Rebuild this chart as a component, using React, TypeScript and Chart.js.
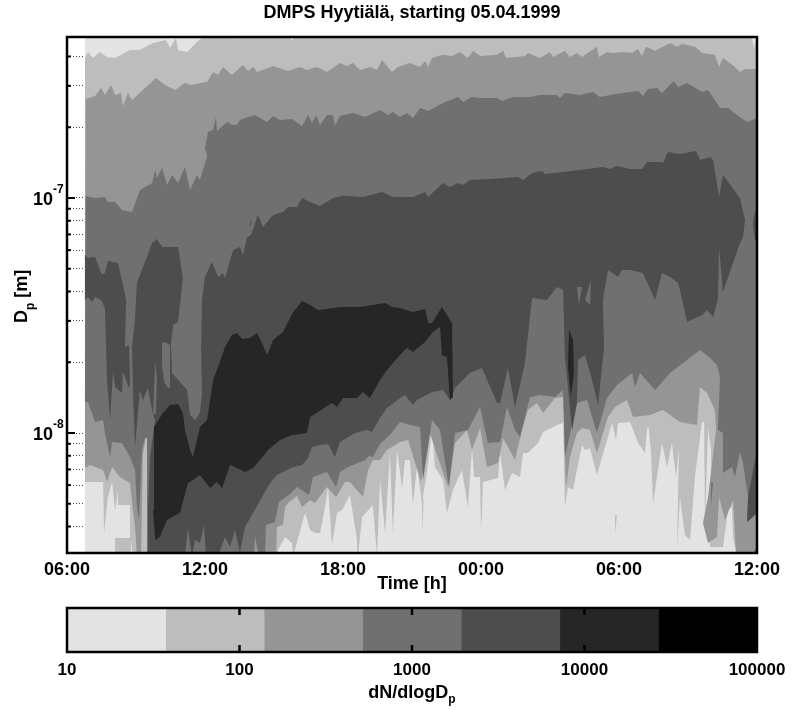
import React, { useEffect, useRef } from "react";
import { Chart, registerables } from "chart.js";

Chart.register(...registerables);

const FONT = "'Liberation Sans', 'DejaVu Sans', sans-serif";
const titleText = "DMPS Hyytiälä, starting 05.04.1999";
const xAxisTitle = "Time [h]";
const xTickLabels = ["06:00", "12:00", "18:00", "00:00", "06:00", "12:00"];
const yTickValues = [4e-9, 5e-9, 6e-9, 7e-9, 8e-9, 9e-9, 1e-8, 2e-8, 3e-8, 4e-8, 5e-8, 6e-8, 7e-8, 8e-8, 9e-8, 1e-7, 2e-7, 3e-7, 4e-7];
const yTickExponents = ["", "", "", "", "", "", "-8", "", "", "", "", "", "", "", "", "-7", "", "", ""];
const barTicks = [10, 100, 1000, 10000, 100000];
const barEdges = [10, 37.3, 139, 518, 1931, 7197, 26827, 100000];
const shades = ["#e3e3e3", "#bdbdbd", "#959595", "#707070", "#4d4d4d", "#262626", "#000000"];

// Hours since 06:00 on the first day, and log10 of the diameter in nm.
const dataStartHour = 0.78;
const lgMin = 0.4894;
const lgMax = 2.685;

const edge10Hours = [0.78, 0.91, 1.13, 1.43, 1.74, 2.09, 2.74, 3.17, 3.74, 4.30, 4.48, 4.74, 4.83, 5.22, 5.65, 5.91, 6.43, 29.70, 29.78, 29.87, 30];
const edge10Lg = [2.596, 2.621, 2.596, 2.621, 2.600, 2.596, 2.630, 2.630, 2.660, 2.672, 2.638, 2.681, 2.630, 2.621, 2.664, 2.685, 2.702, 2.702, 2.685, 2.638, 2.689];

const top100Hours = [0.81, 1.22, 1.48, 1.65, 1.91, 2.09, 2.35, 2.43, 2.65, 2.83, 3.30, 3.87, 4.26, 4.70, 5.13, 5.35, 6.09, 6.35, 6.57, 6.78, 7.17, 7.65, 7.87, 8.09, 8.26, 8.96, 9.61, 10.13, 10.43, 10.87, 11.30, 11.87, 12.17, 12.43, 12.74, 13.17, 13.48, 13.70, 14.13, 14.39, 14.91, 15.35, 15.57, 15.70, 15.87, 16.35, 16.74, 17.09, 17.43, 17.65, 17.96, 18.70, 18.96, 19.09, 19.91, 20.04, 20.57, 21.00, 21.13, 21.65, 21.87, 22.17, 22.39, 23.04, 23.13, 23.48, 23.74, 24.17, 24.57, 24.83, 25.00, 25.17, 25.57, 26.22, 26.52, 26.74, 27.30, 27.61, 28.17, 28.35, 28.52, 29.04, 29.26, 29.48, 30];
const top100Lg = [2.421, 2.434, 2.468, 2.438, 2.481, 2.438, 2.447, 2.391, 2.447, 2.417, 2.460, 2.511, 2.481, 2.460, 2.489, 2.481, 2.494, 2.536, 2.523, 2.557, 2.523, 2.566, 2.540, 2.557, 2.536, 2.562, 2.540, 2.557, 2.545, 2.557, 2.536, 2.574, 2.562, 2.574, 2.545, 2.557, 2.545, 2.587, 2.536, 2.557, 2.574, 2.557, 2.583, 2.557, 2.596, 2.609, 2.604, 2.621, 2.596, 2.626, 2.604, 2.609, 2.626, 2.596, 2.604, 2.617, 2.596, 2.621, 2.600, 2.626, 2.600, 2.617, 2.600, 2.643, 2.600, 2.621, 2.617, 2.621, 2.617, 2.634, 2.604, 2.643, 2.626, 2.660, 2.643, 2.655, 2.643, 2.617, 2.609, 2.557, 2.596, 2.557, 2.536, 2.549, 2.549];

const top1000Hours = [0.81, 1.22, 1.65, 1.78, 2.09, 2.39, 2.83, 3.17, 3.70, 3.83, 3.91, 4.13, 4.35, 4.57, 4.83, 5.13, 5.35, 5.65, 5.78, 6.00, 6.09, 6.00, 6.13, 6.35, 6.48, 6.52, 6.96, 7.17, 7.39, 7.52, 7.87, 8.17, 8.70, 8.96, 9.26, 9.78, 10.22, 10.48, 10.65, 10.83, 11.00, 11.30, 11.57, 11.65, 11.87, 12.43, 12.96, 13.61, 13.96, 14.17, 14.48, 14.78, 15.04, 15.35, 15.70, 16.35, 17.00, 17.22, 17.61, 17.96, 18.70, 18.91, 19.39, 20.13, 20.57, 21.30, 21.43, 21.65, 22.30, 22.87, 23.17, 23.91, 24.83, 25.04, 25.26, 25.65, 25.87, 26.39, 26.57, 26.96, 27.61, 27.87, 28.17, 28.39, 28.74, 29.13, 29.57, 30];
const top1000Lg = [2.008, 2.000, 2.004, 1.983, 1.983, 1.949, 1.940, 2.034, 2.064, 2.119, 2.085, 2.128, 2.055, 2.098, 2.064, 2.132, 2.034, 2.098, 2.077, 2.149, 2.174, 2.213, 2.281, 2.289, 2.345, 2.285, 2.323, 2.311, 2.311, 2.332, 2.345, 2.353, 2.323, 2.349, 2.332, 2.336, 2.306, 2.353, 2.319, 2.353, 2.311, 2.353, 2.353, 2.306, 2.349, 2.362, 2.345, 2.374, 2.353, 2.366, 2.345, 2.362, 2.340, 2.383, 2.370, 2.404, 2.430, 2.408, 2.430, 2.425, 2.425, 2.413, 2.430, 2.430, 2.438, 2.438, 2.425, 2.447, 2.438, 2.451, 2.430, 2.443, 2.455, 2.434, 2.464, 2.468, 2.447, 2.498, 2.472, 2.489, 2.451, 2.460, 2.417, 2.383, 2.383, 2.353, 2.323, 2.340];

const low1000Hours = [0.78, 0.91, 1.22, 1.57, 1.65, 1.87, 1.96, 2.39, 2.74, 2.96, 3.04, 3.13, 3.26, 3.39, 3.48, 3.52, 8.13, 8.17, 8.35, 8.61, 8.65, 9.04, 9.22, 9.70, 10.00, 10.52, 10.70, 11.30, 11.70, 11.87, 12.22, 12.96, 13.13, 13.30, 13.61, 14.04, 14.48, 14.91, 15.35, 15.48, 15.87, 16.22, 16.61, 16.87, 17.43, 17.96, 18.17, 18.30, 18.83, 19.13, 19.48, 19.70, 20.13, 20.57, 21.22, 21.57, 21.65, 22.17, 22.61, 23.04, 23.48, 23.91, 24.57, 24.70, 24.91, 25.57, 26.22, 27.52, 27.96, 28.26, 28.39, 28.30, 28.52, 28.52, 28.91, 29.04, 29.26, 29.39, 29.61, 29.57, 30];
const low1000Lg = [1.132, 1.132, 1.047, 1.055, 1.000, 0.898, 0.962, 0.957, 0.898, 0.843, 0.685, 0.630, 0.928, 0.979, 0.979, 0.477, 0.477, 0.562, 0.477, 0.477, 0.609, 0.621, 0.706, 0.740, 0.770, 0.736, 0.813, 0.834, 0.770, 0.834, 0.855, 0.885, 0.902, 0.898, 0.953, 0.991, 1.047, 1.034, 1.026, 0.800, 1.055, 1.013, 0.770, 1.000, 1.013, 1.111, 1.013, 0.957, 0.962, 1.111, 1.013, 0.983, 1.153, 1.162, 1.153, 1.183, 0.898, 1.128, 1.140, 1.000, 1.149, 1.204, 1.255, 1.196, 1.255, 1.183, 1.255, 1.353, 1.319, 1.289, 1.238, 1.013, 1.000, 0.830, 0.855, 0.813, 0.919, 0.872, 0.728, 0.621, 0.660];

const low100Hours = [0.78, 1.00, 1.57, 1.74, 1.96, 2.30, 2.74, 2.83, 2.96, 3.04, 3.22, 3.30, 3.43, 3.52, 3.52, 9.09, 9.13, 9.39, 9.48, 9.65, 10.00, 10.22, 10.57, 10.78, 11.30, 11.70, 12.09, 12.30, 12.87, 13.09, 13.30, 13.61, 13.91, 14.48, 14.83, 15.39, 15.78, 16.09, 16.57, 16.87, 17.39, 17.61, 17.96, 18.26, 18.74, 18.96, 19.48, 19.78, 20.04, 20.43, 20.70, 21.22, 21.57, 21.70, 21.87, 22.17, 22.39, 22.74, 23.04, 23.52, 23.83, 24.35, 24.61, 25.35, 25.91, 26.65, 27.39, 27.52, 27.83, 28.17, 28.22, 27.87, 27.65, 27.87, 28.26, 28.35, 28.61, 28.96, 29.09, 30];
const low100Lg = [0.851, 0.864, 0.843, 0.791, 0.855, 0.813, 0.787, 0.702, 0.600, 0.477, 0.477, 0.906, 0.983, 0.983, 0.477, 0.477, 0.600, 0.609, 0.685, 0.706, 0.732, 0.685, 0.715, 0.702, 0.770, 0.728, 0.791, 0.791, 0.728, 0.843, 0.885, 0.885, 0.928, 0.962, 0.970, 0.791, 1.000, 0.906, 0.770, 0.957, 1.013, 0.928, 1.021, 0.855, 0.872, 0.979, 0.885, 1.013, 1.098, 1.128, 1.085, 1.149, 1.153, 0.770, 0.898, 1.000, 1.021, 1.013, 0.915, 1.068, 1.111, 1.140, 1.068, 1.077, 1.098, 1.047, 1.034, 1.196, 1.170, 1.098, 1.013, 0.728, 0.617, 0.532, 0.557, 0.728, 0.630, 0.715, 0.477, 0.477];

const low10Hours = [0.78, 1.57, 1.61, 1.78, 1.96, 2.09, 2.22, 2.22, 2.74, 2.74, 2.09, 2.09, 2.78, 2.78, 2.87, 9.17, 9.17, 9.48, 9.78, 9.83, 10.00, 10.35, 10.57, 10.78, 11.00, 11.22, 11.35, 11.52, 11.74, 11.96, 12.30, 12.61, 12.65, 12.83, 13.30, 13.48, 13.61, 13.83, 14.04, 14.17, 14.35, 14.57, 14.70, 14.91, 15.04, 15.22, 15.43, 15.65, 15.87, 16.00, 16.35, 16.52, 16.78, 17.17, 17.43, 17.61, 17.70, 17.96, 18.00, 18.09, 18.74, 18.83, 19.04, 19.35, 19.70, 19.83, 20.04, 20.48, 20.70, 21.30, 21.57, 21.65, 21.78, 22.00, 22.17, 22.39, 22.52, 22.74, 23.04, 23.48, 23.70, 23.87, 23.96, 24.48, 24.83, 25.13, 25.22, 25.30, 25.39, 25.48, 25.87, 26.09, 26.30, 26.48, 26.61, 26.52, 26.65, 26.87, 27.09, 27.30, 27.61, 27.70, 27.74, 27.87, 28.00, 27.96, 28.52, 28.74, 28.91, 28.96, 29.13, 30];
const low10Lg = [0.791, 0.791, 0.574, 0.728, 0.791, 0.672, 0.757, 0.694, 0.694, 0.553, 0.553, 0.477, 0.477, 0.545, 0.477, 0.477, 0.502, 0.557, 0.532, 0.477, 0.536, 0.660, 0.587, 0.574, 0.574, 0.685, 0.770, 0.523, 0.660, 0.672, 0.736, 0.545, 0.477, 0.643, 0.694, 0.477, 0.800, 0.574, 0.915, 0.574, 0.928, 0.766, 0.885, 0.885, 0.694, 0.864, 0.702, 0.834, 1.013, 0.855, 0.800, 0.660, 0.757, 0.843, 0.685, 0.936, 0.813, 0.813, 0.574, 0.791, 0.809, 0.915, 0.757, 0.830, 0.813, 0.915, 0.915, 0.957, 1.004, 1.034, 1.043, 0.685, 0.770, 0.757, 0.843, 0.949, 0.928, 0.936, 0.821, 0.970, 1.043, 0.970, 1.043, 1.047, 0.957, 0.915, 1.021, 1.021, 0.915, 0.702, 0.957, 0.855, 0.957, 0.813, 0.940, 0.502, 0.728, 0.566, 0.545, 0.813, 1.047, 1.047, 0.600, 1.021, 0.928, 0.515, 0.515, 0.672, 0.685, 0.553, 0.477, 0.477];

const band5000Hours = [3.52, 3.52, 3.61, 3.83, 3.74, 3.52, 3.30, 3.17, 2.96, 2.87, 2.83, 2.96, 3.04, 3.39, 3.70, 3.91, 4.13, 4.83, 5.04, 4.83, 4.61, 4.52, 4.57, 4.83, 5.22, 5.35, 5.57, 5.78, 5.87, 5.83, 5.87, 6.00, 6.30, 6.57, 6.78, 6.87, 7.22, 7.52, 7.65, 7.83, 8.00, 8.30, 8.52, 8.96, 9.39, 9.61, 10.00, 10.22, 10.57, 11.00, 11.57, 12.00, 12.87, 13.70, 14.17, 15.04, 15.57, 15.70, 16.35, 16.65, 17.00, 17.22, 17.52, 18.39, 19.61, 19.83, 20.22, 20.65, 20.78, 21.57, 22.61, 23.30, 23.61, 23.91, 24.48, 25.00, 25.22, 25.78, 25.91, 26.13, 26.65, 27.35, 27.52, 27.96, 28.09, 28.35, 28.52, 29.26, 29.48, 29.39, 29.26, 28.96, 28.52, 28.35, 28.30, 28.09, 27.83, 27.61, 26.96, 26.65, 26.57, 26.22, 25.87, 25.57, 25.04, 24.48, 24.13, 23.96, 23.52, 23.30, 23.35, 23.09, 22.83, 22.52, 22.22, 22.17, 21.96, 21.65, 21.57, 21.30, 20.87, 20.22, 19.91, 19.48, 19.17, 18.83, 18.70, 18.04, 17.52, 16.87, 16.65, 16.35, 15.87, 15.22, 15.04, 14.70, 14.48, 13.91, 13.61, 13.26, 13.04, 12.52, 11.87, 11.65, 11.35, 11.00, 10.65, 10.48, 10.22, 9.83, 9.13, 8.83, 8.48, 8.09, 7.74, 7.52, 7.30, 7.09, 6.87, 6.57, 6.04, 5.96, 5.78, 5.57, 5.43, 5.26, 5.13];
const band5000Lg = [0.477, 0.672, 0.898, 1.055, 1.077, 1.191, 1.140, 1.183, 0.940, 1.170, 1.366, 1.494, 1.638, 1.728, 1.808, 1.826, 1.791, 1.791, 1.660, 1.472, 1.460, 1.374, 1.255, 1.226, 1.183, 1.077, 1.055, 1.085, 1.170, 1.353, 1.566, 1.664, 1.728, 1.664, 1.681, 1.660, 1.779, 1.791, 1.757, 1.834, 1.843, 1.928, 1.877, 1.928, 1.940, 1.962, 1.962, 2.000, 1.983, 1.966, 2.000, 2.009, 2.004, 2.026, 2.004, 2.004, 2.026, 2.004, 2.064, 2.047, 2.064, 2.055, 2.077, 2.081, 2.089, 2.077, 2.106, 2.115, 2.102, 2.111, 2.123, 2.132, 2.123, 2.136, 2.123, 2.123, 2.153, 2.153, 2.149, 2.196, 2.187, 2.200, 2.162, 2.174, 2.162, 2.004, 2.098, 2.000, 1.906, 1.834, 1.808, 1.723, 1.600, 1.791, 1.566, 1.494, 1.523, 1.502, 1.472, 1.609, 1.638, 1.664, 1.681, 1.566, 1.681, 1.694, 1.694, 1.664, 1.694, 1.566, 1.366, 1.119, 1.226, 1.332, 1.311, 1.128, 1.013, 1.323, 1.609, 1.621, 1.566, 1.574, 1.298, 1.111, 1.277, 1.128, 1.128, 1.277, 1.255, 1.191, 1.140, 1.183, 1.174, 1.140, 1.119, 1.162, 1.149, 1.106, 1.064, 1.004, 1.013, 1.000, 0.962, 0.898, 0.953, 0.949, 0.940, 0.894, 0.864, 0.855, 0.821, 0.787, 0.728, 0.660, 0.600, 0.494, 0.587, 0.515, 0.557, 0.477, 0.477, 0.609, 0.532, 0.545, 0.477, 0.596, 0.477];

const leftLobeHours = [0.78, 0.91, 1.22, 1.52, 1.65, 1.78, 2.22, 2.43, 2.57, 2.52, 2.70, 2.74, 2.70, 2.43, 2.39, 2.09, 2.00, 1.87, 1.74, 1.65, 1.48, 1.22, 1.09, 0.91, 0.78];
const leftLobeLg = [1.757, 1.745, 1.749, 1.672, 1.681, 1.732, 1.723, 1.630, 1.566, 1.366, 1.374, 1.204, 1.191, 1.260, 1.170, 1.196, 1.260, 1.055, 1.226, 1.532, 1.566, 1.579, 1.557, 1.579, 1.566];
const edgeIslandHours = [30, 29.87, 29.83, 29.91, 30];
const edgeIslandLg = [1.962, 1.928, 1.885, 1.821, 1.821];
const cornerPatchHours = [29.61, 30, 30, 29.57];
const cornerPatchLg = [0.728, 0.928, 0.660, 0.621];
const footPatchHours = [29.78, 30, 30];
const footPatchLg = [0.477, 0.515, 0.477];
const dashHours = [7.93, 8.04, 8.0];
const dashLg = [1.879, 1.919, 1.885];
const gapIslandHours = [4.13, 4.26, 4.48, 4.48, 4.39, 4.22, 4.13];
const gapIslandLg = [1.383, 1.387, 1.374, 1.191, 1.191, 1.217, 1.289];
const gapSliverHours = [3.83, 3.91, 3.87, 3.74];
const gapSliverLg = [1.302, 1.238, 1.085, 1.077];
const chipAHours = [22.17, 22.26, 22.39];
const chipALg = [1.621, 1.545, 1.621];
const chipBHours = [22.52, 22.78, 22.74];
const chipBLg = [1.566, 1.651, 1.545];
const streakAHours = [15.43, 15.5, 15.47];
const streakALg = [0.72, 0.72, 0.574];
const streakBHours = [23.83, 23.91, 23.83];
const streakBLg = [0.65, 0.65, 0.574];
const streakCHours = [28.0, 28.09, 28.0];
const streakCLg = [0.79, 0.79, 0.69];
const notchAHours = [7.35, 7.43, 7.5];
const notchALg = [2.70, 2.672, 2.70];
const notchBHours = [9.65, 9.78, 9.91];
const notchBLg = [2.70, 2.668, 2.70];

const peakHours = [3.83, 3.74, 3.78, 4.17, 4.48, 4.83, 5.04, 5.13, 5.35, 5.48, 5.78, 6.09, 6.35, 6.65, 6.87, 7.17, 7.39, 7.61, 7.96, 8.26, 8.48, 8.70, 8.96, 9.39, 9.83, 10.22, 10.57, 10.91, 11.30, 11.87, 12.74, 13.83, 14.13, 14.48, 15.04, 15.57, 15.70, 15.87, 16.30, 16.74, 16.78, 16.65, 16.52, 16.30, 16.22, 15.91, 15.57, 15.04, 14.78, 14.48, 13.91, 13.61, 13.17, 12.87, 12.61, 12.00, 11.74, 11.52, 10.91, 10.57, 10.43, 9.78, 9.26, 8.74, 8.39, 8.09, 7.74, 7.30, 7.09, 6.74, 6.52, 6.22, 5.78, 5.48, 5.26, 4.91, 4.57, 4.35, 4.04];
const peakLg = [0.545, 0.672, 1.026, 1.085, 1.119, 1.123, 1.085, 1.013, 0.928, 0.898, 1.026, 1.055, 1.226, 1.302, 1.366, 1.417, 1.426, 1.400, 1.404, 1.426, 1.383, 1.332, 1.396, 1.430, 1.515, 1.562, 1.545, 1.523, 1.528, 1.536, 1.536, 1.553, 1.536, 1.532, 1.515, 1.528, 1.468, 1.468, 1.536, 1.468, 1.153, 1.140, 1.323, 1.332, 1.451, 1.430, 1.387, 1.345, 1.362, 1.332, 1.268, 1.226, 1.149, 1.174, 1.149, 1.149, 1.111, 1.128, 1.089, 1.068, 1.000, 0.991, 0.970, 0.928, 0.885, 0.851, 0.834, 0.855, 0.864, 0.766, 0.791, 0.766, 0.821, 0.800, 0.787, 0.660, 0.643, 0.630, 0.557];
const nightStreakHours = [21.83, 22.0, 22.04, 21.91, 21.78];
const nightStreakLg = [1.438, 1.396, 1.255, 1.153, 1.281];

function outline(hours: number[], lg: number[]) {
  return hours.map((h, i) => ({ x: h, y: Math.pow(10, lg[i] - 9) }));
}
function band(topH: number[], topL: number[], lowH: number[], lowL: number[]) {
  return outline([...topH, ...[...lowH].reverse()], [...topL, ...[...lowL].reverse()]);
}

// Painted from back to front.
const layers = [
  { shade: 0, points: outline([dataStartHour, 30, 30, dataStartHour], [lgMax + 0.1, lgMax + 0.1, lgMin - 0.1, lgMin - 0.1]) },
  { shade: 1, points: band(edge10Hours, edge10Lg, low10Hours, low10Lg) },
  { shade: 0, points: outline(notchAHours, notchALg) },
  { shade: 0, points: outline(notchBHours, notchBLg) },
  { shade: 1, points: outline(streakAHours, streakALg) },
  { shade: 1, points: outline(streakBHours, streakBLg) },
  { shade: 2, points: band(top100Hours, top100Lg, low100Hours, low100Lg) },
  { shade: 3, points: outline(streakCHours, streakCLg) },
  { shade: 3, points: band(top1000Hours, top1000Lg, low1000Hours, low1000Lg) },
  { shade: 4, points: outline(band5000Hours, band5000Lg) },
  { shade: 4, points: outline(leftLobeHours, leftLobeLg) },
  { shade: 4, points: outline(edgeIslandHours, edgeIslandLg) },
  { shade: 4, points: outline(cornerPatchHours, cornerPatchLg) },
  { shade: 4, points: outline(footPatchHours, footPatchLg) },
  { shade: 4, points: outline(dashHours, dashLg) },
  { shade: 3, points: outline(gapIslandHours, gapIslandLg) },
  { shade: 3, points: outline(gapSliverHours, gapSliverLg) },
  { shade: 3, points: outline(chipAHours, chipALg) },
  { shade: 3, points: outline(chipBHours, chipBLg) },
  { shade: 5, points: outline(peakHours, peakLg) },
  { shade: 5, points: outline(nightStreakHours, nightStreakLg) },
];

function setFont(ctx: any, size: number) {
  ctx.font = `bold ${size}px ${FONT}`;
}

const framePlugin = {
  id: "frame",
  beforeDatasetsDraw(chart: any) {
    if (chart.canvas.dataset.kind !== "main") return;
    const { ctx, chartArea, scales } = chart;
    ctx.save();
    ctx.strokeStyle = "#000";
    ctx.lineWidth = 2;
    yTickValues.forEach((v, i) => {
      const y = scales.y.getPixelForValue(v);
      ctx.beginPath();
      ctx.moveTo(chartArea.left, y);
      ctx.lineTo(chartArea.left + (yTickExponents[i] ? 8 : 4), y);
      ctx.stroke();
    });
    ctx.restore();
  },
  afterDraw(chart: any) {
    const { ctx, chartArea, scales } = chart;
    const kind = chart.canvas.dataset.kind;
    ctx.save();
    ctx.strokeStyle = "#000";
    ctx.fillStyle = "#000";
    if (kind === "bar") {
      ctx.lineWidth = 2.5;
      barTicks.slice(1, -1).forEach((v) => {
        const x = scales.x.getPixelForValue(v);
        ctx.beginPath();
        ctx.moveTo(x, chartArea.top);
        ctx.lineTo(x, chartArea.top + 7);
        ctx.moveTo(x, chartArea.bottom);
        ctx.lineTo(x, chartArea.bottom - 7);
        ctx.stroke();
      });
      // dN/dlogDp with its subscript
      setFont(ctx, 18);
      const w1 = ctx.measureText("dN/dlogD").width;
      setFont(ctx, 12);
      const w2 = ctx.measureText("p").width;
      const start = (chartArea.left + chartArea.right) / 2 - (w1 + w2) / 2;
      ctx.textAlign = "left";
      ctx.textBaseline = "alphabetic";
      setFont(ctx, 18);
      ctx.fillText("dN/dlogD", start, chart.height - 12);
      setFont(ctx, 12);
      ctx.fillText("p", start + w1, chart.height - 7);
    } else {
      // Decade labels with their exponents
      ctx.textBaseline = "alphabetic";
      yTickValues.forEach((v, i) => {
        if (!yTickExponents[i]) return;
        const y = scales.y.getPixelForValue(v);
        ctx.textAlign = "right";
        setFont(ctx, 18);
        ctx.fillText("10", chartArea.left - 14, y + 7);
        ctx.textAlign = "left";
        setFont(ctx, 12);
        ctx.fillText(yTickExponents[i], chartArea.left - 14, y - 5);
      });
      // Dp [m], rotated, with its subscript
      const mid = (chartArea.top + chartArea.bottom) / 2;
      ctx.translate(27, mid + 28);
      ctx.rotate(-Math.PI / 2);
      ctx.textAlign = "left";
      setFont(ctx, 18);
      ctx.fillText("D", 0, 0);
      const wD = ctx.measureText("D").width;
      setFont(ctx, 12);
      ctx.fillText("p", wD, 7);
      const wP = ctx.measureText("p").width;
      setFont(ctx, 18);
      ctx.fillText(" [m]", wD + wP, 0);
      ctx.setTransform(1, 0, 0, 1, 0, 0);
    }
    ctx.lineWidth = 2.5;
    ctx.strokeRect(chartArea.left, chartArea.top, chartArea.right - chartArea.left, chartArea.bottom - chartArea.top);
    ctx.restore();
  },
};

export default function App() {
  const mainRef = useRef<HTMLCanvasElement>(null);
  const barRef = useRef<HTMLCanvasElement>(null);

  useEffect(() => {
    const main = new Chart(mainRef.current as any, {
      type: "scatter",
      data: {
        datasets: [...layers].reverse().map((l) => ({
          data: l.points,
          showLine: true,
          fill: "shape",
          backgroundColor: shades[l.shade],
          borderColor: shades[l.shade],
          borderWidth: 0,
          pointRadius: 0,
          tension: 0,
        })),
      } as any,
      options: {
        animation: false,
        responsive: false,
        layout: { padding: { right: 40 } },
        plugins: {
          legend: { display: false },
          tooltip: { enabled: false },
          title: {
            display: true,
            fullSize: false,
            text: titleText,
            color: "#000",
            font: { family: FONT, size: 18, weight: "bold", lineHeight: 1.2 },
            padding: { top: 2, bottom: 13.4 },
          },
        },
        scales: {
          x: {
            type: "linear",
            min: 0,
            max: 30,
            grid: { display: false, drawTicks: false, tickLength: 0 },
            border: { display: false },
            afterFit: (s: any) => { s.height = 47; },
            ticks: {
              stepSize: 6,
              maxRotation: 0,
              padding: 6,
              color: "#000",
              font: { family: FONT, size: 18, weight: "bold" },
              callback: (_v: any, i: number) => xTickLabels[i],
            },
            title: {
              display: true,
              text: xAxisTitle,
              color: "#000",
              padding: { top: 0, bottom: 5 },
              font: { family: FONT, size: 18, weight: "bold" },
            },
          },
          y: {
            type: "logarithmic",
            min: Math.pow(10, lgMin - 9),
            max: Math.pow(10, lgMax - 9),
            afterFit: (s: any) => { s.width = 67; },
            afterBuildTicks: (s: any) => { s.ticks = yTickValues.map((value) => ({ value })); },
            grid: { color: "#444", lineWidth: 1, drawTicks: false, tickLength: 0 },
            border: { display: false, dash: [1, 2] },
            ticks: { autoSkip: false, callback: () => "" },
          },
        },
      } as any,
      plugins: [framePlugin],
    });

    const bar = new Chart(barRef.current as any, {
      type: "bar",
      data: {
        labels: [""],
        datasets: shades.map((shade, i) => ({
          data: [[barEdges[i], barEdges[i + 1]]],
          backgroundColor: shade,
          borderWidth: 0,
          barPercentage: 1,
          categoryPercentage: 1,
          grouped: false,
        })),
      } as any,
      options: {
        animation: false,
        responsive: false,
        indexAxis: "y",
        layout: { padding: { left: 67, right: 40, top: 8 } },
        plugins: { legend: { display: false }, tooltip: { enabled: false }, title: { display: false } },
        scales: {
          y: { display: false },
          x: {
            type: "logarithmic",
            min: 10,
            max: 100000,
            afterFit: (s: any) => { s.height = 58; },
            afterBuildTicks: (s: any) => { s.ticks = barTicks.map((value) => ({ value })); },
            grid: { display: false, drawTicks: false, tickLength: 0 },
            border: { display: false },
            ticks: {
              autoSkip: false,
              maxRotation: 0,
              padding: 8,
              color: "#000",
              font: { family: FONT, size: 17, weight: "bold" },
              callback: (v: any) => String(v),
            },
          },
        },
      } as any,
      plugins: [framePlugin],
    });

    return () => {
      main.destroy();
      bar.destroy();
    };
  }, []);

  return (
    <div style={{ position: "absolute", left: 0, top: 0, width: 797, height: 710, overflow: "hidden", background: "#fff" }}>
      <canvas ref={mainRef} data-kind="main" width={797} height={600} style={{ position: "absolute", left: 0, top: 0, width: 797, height: 600 }} />
      <canvas ref={barRef} data-kind="bar" width={797} height={110} style={{ position: "absolute", left: 0, top: 600, width: 797, height: 110 }} />
    </div>
  );
}
